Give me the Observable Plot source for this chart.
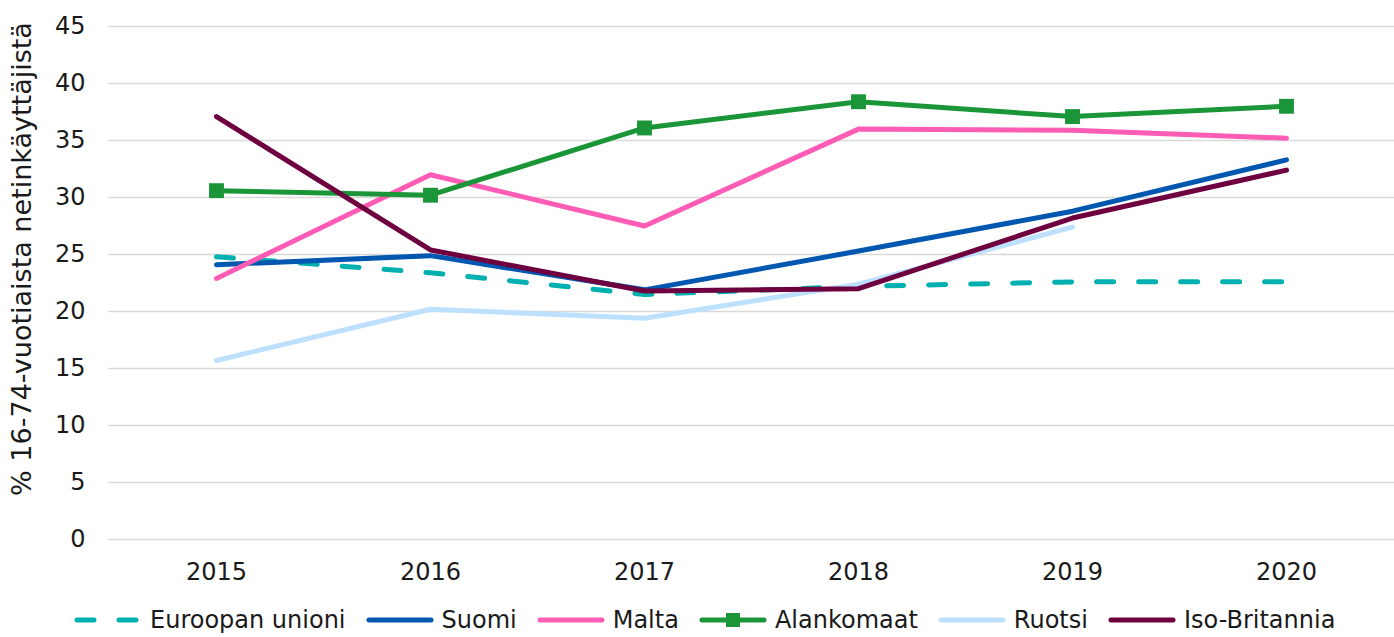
<!DOCTYPE html>
<html>
<head>
<meta charset="utf-8">
<script src="https://cdn.jsdelivr.net/npm/d3@7"></script>
<script src="https://cdn.jsdelivr.net/npm/@observablehq/plot@0.6"></script>
<style>
  html, body { margin: 0; padding: 0; background: #fff; }
  body { width: 1394px; height: 637px; overflow: hidden; font-family: "DejaVu Sans", Verdana, sans-serif; }
  #legend { display: flex; align-items: center; height: 40px; padding-left: 73px; font-size: 24px; color: #1a1a1a; }
  .item { display: flex; align-items: center; margin-right: 19px; }
  .item svg { margin-right: 7px; }
</style>
</head>
<body>
<div id="chart"></div>
<div id="legend"></div>
<script>
const years = ["2015", "2016", "2017", "2018", "2019", "2020"];
const seriesNames = ["Euroopan unioni", "Suomi", "Malta", "Alankomaat", "Ruotsi", "Iso-Britannia"];
const euroopanUnioni = [24.8, 23.4, 21.5, 22.2, 22.6, 22.6];
const suomi = [24.1, 24.9, 21.9, 25.3, 28.8, 33.3];
const malta = [22.9, 32.0, 27.5, 36.0, 35.9, 35.2];
const alankomaat = [30.6, 30.2, 36.1, 38.4, 37.1, 38.0];
const ruotsi = [15.7, 20.2, 19.4, 22.4, 27.4, null];
const isoBritannia = [37.1, 25.4, 21.8, 22.0, 28.2, 32.4];
const colors = ["#00b0b0", "#0057b0", "#ff5cb5", "#1a9638", "#bee0ff", "#6e0040"];
const yTicks = [0, 5, 10, 15, 20, 25, 30, 35, 40, 45];
const yLabel = "% 16-74-vuotiaista netinkäyttäjistä";

const valuesList = [euroopanUnioni, suomi, malta, alankomaat, ruotsi, isoBritannia];
const rows = [];
seriesNames.forEach((name, i) => {
  years.forEach((yr, j) => {
    const v = valuesList[i][j];
    if (v != null) rows.push({series: name, year: yr, value: v});
  });
});
const of = name => rows.filter(d => d.series === name);

const lineOpts = {x: "year", y: "value", strokeWidth: 5, strokeLinecap: "round", strokeLinejoin: "round"};

const chart = Plot.plot({
  width: 1394,
  height: 600,
  marginLeft: 108,
  marginRight: 0,
  marginTop: 26,
  marginBottom: 61,
  style: {fontFamily: "DejaVu Sans, Verdana, sans-serif", fontSize: "24px", color: "#1a1a1a", background: "white"},
  x: {type: "point", domain: years, padding: 0.5, label: null, tickSize: 0, tickPadding: 23},
  y: {domain: [0, 45], ticks: yTicks, label: null, tickSize: 0, tickPadding: 23},
  marks: [
    Plot.gridY(yTicks, {stroke: "#d9d9d9", strokeOpacity: 1, strokeWidth: 1.5}),
    Plot.line(of(seriesNames[0]), {...lineOpts, stroke: colors[0], strokeDasharray: "17,25"}),
    Plot.line(of(seriesNames[1]), {...lineOpts, stroke: colors[1]}),
    Plot.line(of(seriesNames[2]), {...lineOpts, stroke: colors[2]}),
    Plot.line(of(seriesNames[3]), {...lineOpts, stroke: colors[3]}),
    Plot.dot(of(seriesNames[3]), {x: "year", y: "value", symbol: "square", r: 8.4, fill: colors[3], stroke: "none"}),
    Plot.line(of(seriesNames[4]), {...lineOpts, stroke: colors[4]}),
    Plot.line(of(seriesNames[5]), {...lineOpts, stroke: colors[5]}),
    Plot.text([yLabel], {frameAnchor: "left", textAnchor: "middle", rotate: -90, dx: -86, dy: -24, fontSize: 27, fill: "#1a1a1a"})
  ]
});
document.getElementById("chart").appendChild(chart);

const legend = document.getElementById("legend");
seriesNames.forEach((name, i) => {
  const item = document.createElement("div");
  item.className = "item";
  const dash = i === 0 ? ' stroke-dasharray="17,25"' : "";
  const marker = i === 3 ? `<rect x="28" y="3" width="14" height="14" fill="${colors[i]}"/>` : "";
  item.innerHTML = `<svg width="70" height="20"><line x1="4" y1="10" x2="66" y2="10" stroke="${colors[i]}" stroke-width="5" stroke-linecap="round"${dash}/>${marker}</svg><span>${name}</span>`;
  legend.appendChild(item);
});
</script>
</body>
</html>
